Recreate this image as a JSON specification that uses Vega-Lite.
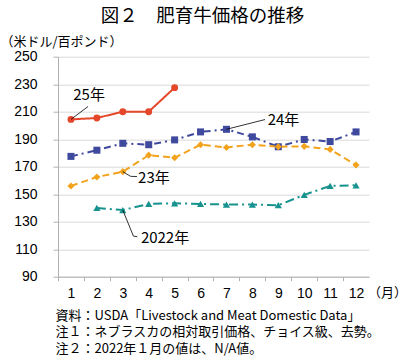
{
  "$schema": "https://vega.github.io/schema/vega-lite/v6.json",
  "width": 311,
  "height": 220,
  "autosize": "none",
  "padding": {"left": 58, "top": 56.7, "right": 31, "bottom": 83.3},
  "background": "white",
  "config": {"view": {"stroke": null}, "font": "Noto Sans CJK JP"},
  "title": {
    "text": "図２　肥育牛価格の推移",
    "fontSize": 18.5,
    "fontWeight": "normal",
    "font": "Noto Sans CJK JP",
    "color": "black",
    "anchor": "middle",
    "frame": "group",
    "dx": -11,
    "offset": 10
  },
  "datasets": {
    "prices": [
      {"series": "25年", "month": 1, "price": 204.4},
      {"series": "25年", "month": 2, "price": 205.4},
      {"series": "25年", "month": 3, "price": 210},
      {"series": "25年", "month": 4, "price": 210},
      {"series": "25年", "month": 5, "price": 227.5},
      {"series": "24年", "month": 1, "price": 177.5},
      {"series": "24年", "month": 2, "price": 182},
      {"series": "24年", "month": 3, "price": 187},
      {"series": "24年", "month": 4, "price": 186},
      {"series": "24年", "month": 5, "price": 189.5},
      {"series": "24年", "month": 6, "price": 195.3},
      {"series": "24年", "month": 7, "price": 197.2},
      {"series": "24年", "month": 8, "price": 191.7},
      {"series": "24年", "month": 9, "price": 184.5},
      {"series": "24年", "month": 10, "price": 189.8},
      {"series": "24年", "month": 11, "price": 188.3},
      {"series": "24年", "month": 12, "price": 195.3},
      {"series": "23年", "month": 1, "price": 156},
      {"series": "23年", "month": 2, "price": 162.5},
      {"series": "23年", "month": 3, "price": 166.4},
      {"series": "23年", "month": 4, "price": 178.4},
      {"series": "23年", "month": 5, "price": 176.5},
      {"series": "23年", "month": 6, "price": 186},
      {"series": "23年", "month": 7, "price": 184},
      {"series": "23年", "month": 8, "price": 186},
      {"series": "23年", "month": 9, "price": 184.5},
      {"series": "23年", "month": 10, "price": 184.8},
      {"series": "23年", "month": 11, "price": 182.6},
      {"series": "23年", "month": 12, "price": 171.2},
      {"series": "2022年", "month": 2, "price": 140},
      {"series": "2022年", "month": 3, "price": 138.5},
      {"series": "2022年", "month": 4, "price": 142.9},
      {"series": "2022年", "month": 5, "price": 143.4},
      {"series": "2022年", "month": 6, "price": 142.9},
      {"series": "2022年", "month": 7, "price": 142.5},
      {"series": "2022年", "month": 8, "price": 142.5},
      {"series": "2022年", "month": 9, "price": 142},
      {"series": "2022年", "month": 10, "price": 149.5},
      {"series": "2022年", "month": 11, "price": 156},
      {"series": "2022年", "month": 12, "price": 156.5}
    ],
    "leaders": [
      {"x": 1.66, "y": 213.8, "x2": 1.0, "y2": 204.4},
      {"x": 8.49, "y": 204.3, "x2": 7.0, "y2": 197.2},
      {"x": 3.0, "y": 166.4, "x2": 3.3, "y2": 163.0},
      {"x": 3.3, "y": 163.0, "x2": 3.55, "y2": 162.8},
      {"x": 3.0, "y": 138.5, "x2": 3.41, "y2": 119.5},
      {"x": 3.41, "y": 119.5, "x2": 3.56, "y2": 119.1}
    ],
    "labels": [
      {"x": 1.7, "y": 222, "text": "25年"},
      {"x": 9.2, "y": 203.9, "text": "24年"},
      {"x": 4.2, "y": 161.8, "text": "23年"},
      {"x": 4.63, "y": 117.8, "text": "2022年"}
    ],
    "unit": [
      {"x": 12.5, "y": 90, "text": "（月）"}
    ]
  },
  "layer": [
    {
      "data": {"name": "prices"},
      "mark": {"type": "line", "strokeWidth": 2},
      "encoding": {
        "x": {
          "field": "month",
          "type": "quantitative",
          "scale": {"domain": [0.5, 12.5], "nice": false, "zero": false},
          "axis": {
            "values": [1, 2, 3, 4, 5, 6, 7, 8, 9, 10, 11, 12],
            "tickCount": 30,
            "format": "d",
            "tickOffset": -12.96,
            "labelOffset": 12.96,
            "grid": false,
            "domainColor": "#b0b0b0",
            "tickColor": "#b0b0b0",
            "tickSize": 4,
            "labelFont": "Liberation Sans",
            "labelFontSize": 14,
            "labelColor": "black",
            "labelPadding": 6,
            "labelFlush": false,
            "labelOverlap": false,
            "title": [
              "資料：USDA「Livestock and Meat Domestic Data」",
              "注１：ネブラスカの相対取引価格、チョイス級、去勢。",
              "注２：2022年１月の値は、N/A値。"
            ],
            "titleFont": "Noto Sans CJK JP",
            "titleFontSize": 13,
            "titleFontWeight": "normal",
            "titleColor": "black",
            "titleAlign": "left",
            "titleAnchor": "start",
            "titleBaseline": "top",
            "titleX": -3,
            "titleY": 32.5,
            "titleLineHeight": 16.8
          }
        },
        "y": {
          "field": "price",
          "type": "quantitative",
          "scale": {"domain": [90, 250], "nice": false, "zero": false},
          "axis": {
            "values": [90, 110, 130, 150, 170, 190, 210, 230, 250],
            "tickCount": 30,
            "format": "d",
            "gridColor": "#d9d9d9",
            "domainColor": "#b0b0b0",
            "tickColor": "#b0b0b0",
            "tickSize": 5,
            "labelFont": "Liberation Sans",
            "labelFontSize": 14,
            "labelColor": "black",
            "labelPadding": 16,
            "labelOverlap": false,
            "labelFlush": false,
            "title": "（米ドル/百ポンド）",
            "titleFont": "Noto Sans CJK JP",
            "titleFontSize": 13,
            "titleFontWeight": "normal",
            "titleColor": "black",
            "titleAngle": 0,
            "titleAlign": "left",
            "titleBaseline": "middle",
            "titleX": -58,
            "titleY": -15.7
          }
        },
        "color": {
          "field": "series",
          "type": "nominal",
          "scale": {"domain": ["25年", "24年", "23年", "2022年"], "range": ["#E5472B", "#3F4A9E", "#F2A31D", "#17928E"]},
          "legend": null
        },
        "strokeDash": {
          "field": "series",
          "type": "nominal",
          "scale": {"domain": ["25年", "24年", "23年", "2022年"], "range": [[1, 0], [7, 4, 2, 4], [7, 4], [9, 4, 2, 4]]},
          "legend": null
        }
      }
    },
    {
      "data": {"name": "prices"},
      "mark": {"type": "point", "filled": true, "opacity": 1},
      "encoding": {
        "x": {"field": "month", "type": "quantitative"},
        "y": {"field": "price", "type": "quantitative"},
        "color": {"field": "series", "type": "nominal", "legend": null},
        "shape": {
          "field": "series",
          "type": "nominal",
          "scale": {"domain": ["25年", "24年", "23年", "2022年"], "range": ["circle", "square", "diamond", "triangle-up"]},
          "legend": null
        },
        "size": {
          "field": "series",
          "type": "nominal",
          "scale": {"domain": ["25年", "24年", "23年", "2022年"], "range": [48, 52, 48, 44]},
          "legend": null
        }
      }
    },
    {
      "data": {"name": "leaders"},
      "mark": {"type": "rule", "color": "black", "strokeWidth": 0.8},
      "encoding": {
        "x": {"field": "x", "type": "quantitative"},
        "y": {"field": "y", "type": "quantitative"},
        "x2": {"field": "x2"},
        "y2": {"field": "y2"}
      }
    },
    {
      "data": {"name": "labels"},
      "mark": {"type": "text", "font": "Noto Sans CJK JP", "fontSize": 15, "color": "black", "align": "center", "baseline": "middle"},
      "encoding": {
        "x": {"field": "x", "type": "quantitative"},
        "y": {"field": "y", "type": "quantitative"},
        "text": {"field": "text"}
      }
    },
    {
      "data": {"name": "unit"},
      "mark": {"type": "text", "font": "Noto Sans CJK JP", "fontSize": 13, "color": "black", "align": "left", "baseline": "middle", "dx": -1, "dy": 16},
      "encoding": {
        "x": {"field": "x", "type": "quantitative"},
        "y": {"field": "y", "type": "quantitative"},
        "text": {"field": "text"}
      }
    }
  ]
}
